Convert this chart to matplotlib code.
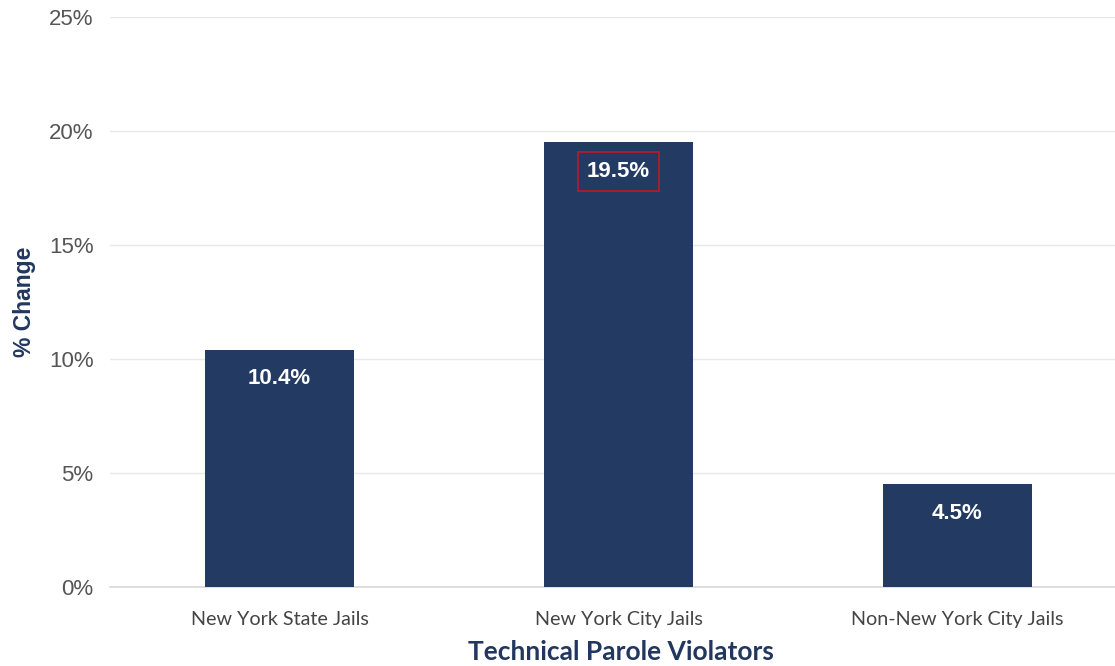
import matplotlib
matplotlib.use('Agg')
import matplotlib.pyplot as plt
import numpy as np

# Data
categories = ['New York State Jails', 'New York City Jails', 'Non-New York City Jails']
pct_change = [10.4, 19.5, 4.5]
value_labels = ['10.4%', '19.5%', '4.5%']
y_ticks = [0, 5, 10, 15, 20, 25]

navy = '#233a63'
title_navy = '#22375f'

fig = plt.figure(figsize=(11.15, 6.66), dpi=100)
ax = fig.add_axes([0.0987, 0.1186, 0.9013, 0.8559])

x = np.arange(len(categories))
bars = ax.bar(x, pct_change, width=0.44, color=navy, zorder=3)

# value labels inside the bars, the middle one boxed in red
for i, (b, lab) in enumerate(zip(bars, value_labels)):
    kw = {}
    if i == 1:
        kw['bbox'] = dict(boxstyle='square,pad=0.4', facecolor='none', edgecolor='#b21a2c', linewidth=1.3)
    ax.annotate(lab, (b.get_x() + b.get_width() / 2, b.get_height()),
                xytext=(0, -29), textcoords='offset pixels',
                ha='center', va='center', color='white', fontsize=16,
                fontweight='bold', family='Liberation Sans', zorder=4, **kw)

ax.set_ylim(0, 25)
ax.set_xlim(-0.5, 2.465)
ax.set_yticks(y_ticks)
ax.set_yticklabels([f'{t}%' for t in y_ticks], family='Liberation Sans', fontsize=16, color='#555555')
ax.set_xticks(x)
ax.set_xticklabels(categories, family='Lato', fontsize=14.2, color='#444444')
ax.tick_params(axis='y', length=0, pad=12)
ax.tick_params(axis='x', length=0, pad=17)

ax.grid(axis='y', color='#e8e8e8', linewidth=1, zorder=0)
for s in ['top', 'right', 'left']:
    ax.spines[s].set_visible(False)
ax.spines['bottom'].set_color('#d9d9d9')
ax.spines['bottom'].set_linewidth(1.2)

ax.set_xlabel('Technical Parole Violators', family='Lato', fontsize=19, fontweight='bold',
              color=title_navy)
ax.xaxis.set_label_coords(0.508, -0.093)
ax.set_ylabel('% Change', family='Liberation Sans', fontsize=16.5, fontweight='bold',
              color=title_navy)
ax.yaxis.set_label_coords(-0.074, 0.5)

fig.savefig('out.png', dpi=100)
